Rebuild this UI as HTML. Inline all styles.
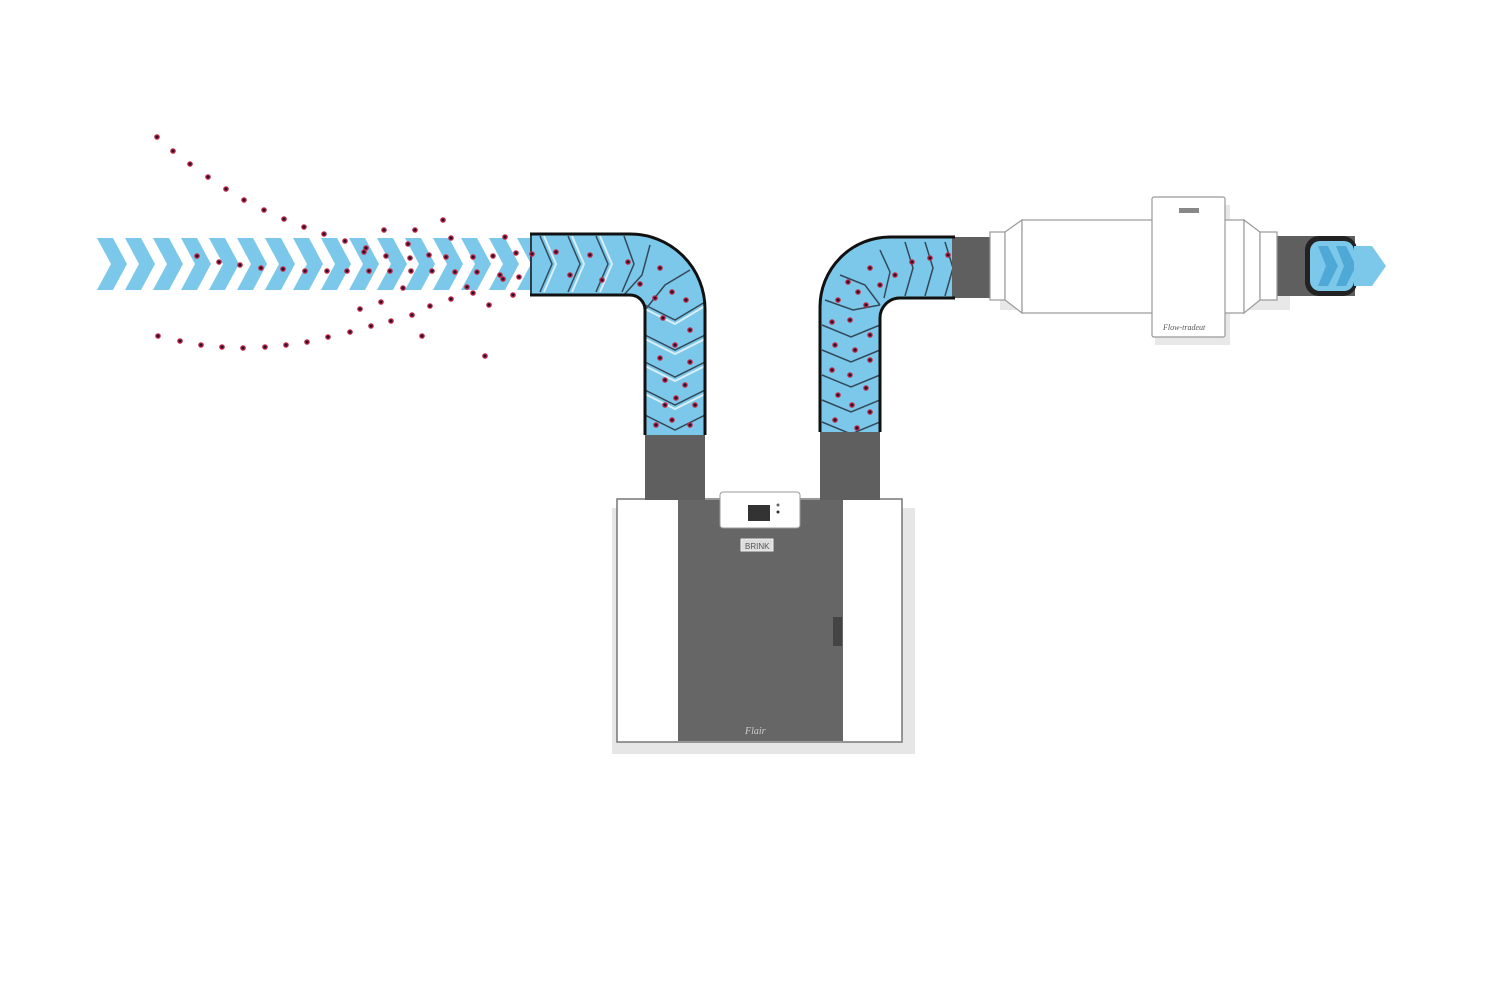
<!DOCTYPE html>
<html><head><meta charset="utf-8"><style>html,body{margin:0;padding:0;background:#fff}svg{display:block}</style></head>
<body>
<svg width="1488" height="992" viewBox="0 0 1488 992" xmlns="http://www.w3.org/2000/svg">
<defs>
<clipPath id="lduct"><path d="M530,234 H630 A75,75 0 0 1 705,309 V435 H645 V310 A15,15 0 0 0 630,295 H530 Z"/></clipPath>
<clipPath id="rduct"><path d="M820,432 V307 A70,70 0 0 1 890,237 H952 V298 H900 A20,20 0 0 0 880,318 V432 Z"/></clipPath>
<clipPath id="band"><rect x="95" y="238" width="440" height="53"/></clipPath>
<g id="chev"><polygon points="0,0 16,0 30,26 16,52 0,52 14,26" fill="#7cc8ea"/></g>
<g id="dot"><circle r="2.8" fill="#c42a45"/><circle r="1.5" fill="#2a1030"/></g>
</defs>

<g clip-path="url(#band)">
<use href="#chev" x="97" y="238"/><use href="#chev" x="125" y="238"/><use href="#chev" x="153" y="238"/><use href="#chev" x="181" y="238"/><use href="#chev" x="209" y="238"/><use href="#chev" x="237" y="238"/><use href="#chev" x="265" y="238"/><use href="#chev" x="293" y="238"/><use href="#chev" x="321" y="238"/><use href="#chev" x="349" y="238"/><use href="#chev" x="377" y="238"/><use href="#chev" x="405" y="238"/><use href="#chev" x="433" y="238"/><use href="#chev" x="461" y="238"/><use href="#chev" x="489" y="238"/><use href="#chev" x="517" y="238"/>
</g>

<rect x="612" y="508" width="303" height="246" fill="#e6e6e6"/>
<path d="M530,234 H630 A75,75 0 0 1 705,309 V510 H645 V310 A15,15 0 0 0 630,295 H530 Z" fill="#5f5f5f"/>
<g clip-path="url(#lduct)">
<rect x="520" y="220" width="200" height="220" fill="#7cc8ea"/>
<g fill="none" stroke="#33495a" stroke-width="1.5">
<path d="M540,236 l12,28 l-12,28"/><path d="M568,236 l12,28 l-12,28"/><path d="M596,236 l12,28 l-12,28"/><path d="M624,236 l10,28 l-12,28"/>
<path d="M650,245 l-8,30 l-20,22"/><path d="M690,270 l-25,15 l-20,25"/>
<path d="M645,305 l30,15 l30,-18"/><path d="M645,335 l30,15 l30,-15"/><path d="M645,362 l30,15 l30,-15"/><path d="M645,390 l30,15 l30,-15"/><path d="M645,415 l30,15 l30,-15"/>
</g>
<g stroke="#fff" stroke-width="2" fill="none" opacity="0.7">
<path d="M544,236 l12,28 l-12,28"/><path d="M572,236 l12,28 l-12,28"/><path d="M600,236 l12,28 l-12,28"/>
<path d="M645,309 l30,15 l30,-18"/><path d="M645,339 l30,15 l30,-15"/><path d="M645,366 l30,15 l30,-15"/><path d="M645,394 l30,15 l30,-15"/>
</g>
</g>
<path d="M530,234 H630 A75,75 0 0 1 705,309 V435" fill="none" stroke="#111" stroke-width="3"/>
<path d="M645,435 V310 A15,15 0 0 0 630,295 H530" fill="none" stroke="#111" stroke-width="3"/>
<path d="M531,234 V295" fill="none" stroke="#111" stroke-width="1.5"/>

<path d="M820,510 V307 A70,70 0 0 1 890,237 H995 V298 H900 A20,20 0 0 0 880,318 V510 Z" fill="#5f5f5f"/>
<g clip-path="url(#rduct)">
<rect x="815" y="230" width="140" height="210" fill="#7cc8ea"/>
<g fill="none" stroke="#33495a" stroke-width="1.5">
<path d="M945,242 l8,26 l-8,28"/><path d="M925,242 l8,26 l-8,28"/><path d="M905,242 l8,26 l-8,28"/><path d="M880,250 l10,22 l-6,26"/>
<path d="M840,275 l25,10 l15,20"/><path d="M825,300 l28,10 l27,-5"/>
<path d="M822,325 l29,12 l29,-12"/><path d="M822,350 l29,12 l29,-12"/><path d="M822,375 l29,12 l29,-12"/><path d="M822,400 l29,12 l29,-12"/><path d="M822,422 l29,12 l29,-12"/>
</g>
</g>
<path d="M880,432 V318 A20,20 0 0 1 900,298 H955 M955,237 H890 A70,70 0 0 0 820,307 V432" fill="none" stroke="#111" stroke-width="3"/>

<rect x="1000" y="244" width="290" height="66" fill="#e8e8e8"/>
<rect x="1155" y="205" width="75" height="140" fill="#e8e8e8"/>
<rect x="1277" y="236" width="78" height="60" fill="#5f5f5f"/>
<rect x="990" y="232" width="15" height="68" fill="#fff" stroke="#999" stroke-width="1.2"/>
<polygon points="1005,232 1022,220 1022,313 1005,300" fill="#fff" stroke="#999" stroke-width="1.2"/>
<rect x="1022" y="220" width="132" height="93" fill="#fff" stroke="#999" stroke-width="1.2"/>
<rect x="1224" y="220" width="20" height="93" fill="#fff" stroke="#999" stroke-width="1.2"/>
<polygon points="1244,220 1260,232 1260,300 1244,313" fill="#fff" stroke="#999" stroke-width="1.2"/>
<rect x="1260" y="232" width="17" height="68" fill="#fff" stroke="#999" stroke-width="1.2"/>
<rect x="1152" y="197" width="73" height="140" fill="#fff" stroke="#999" stroke-width="1.2" rx="2"/>
<rect x="1179" y="208" width="20" height="5" fill="#888"/>
<text x="1163" y="330" font-family="Liberation Serif, serif" font-style="italic" font-size="8" fill="#555">Flow-tradeut</text>
<rect x="1305" y="236" width="52" height="60" rx="14" fill="#222"/>
<rect x="1310" y="241" width="44" height="50" rx="10" fill="#7cc8ea"/>
<g fill="#4fa9d6"><polygon points="1318,246 1328,246 1338,266 1328,286 1318,286 1326,266"/><polygon points="1336,246 1346,246 1356,266 1346,286 1336,286 1344,266"/></g>
<polygon points="1354,246 1372,246 1386,266 1372,286 1354,286" fill="#7cc8ea"/>

<rect x="617" y="499" width="285" height="243" fill="#fff" stroke="#777" stroke-width="1.5"/>
<rect x="678" y="500" width="165" height="241" fill="#666"/>
<rect x="645" y="480" width="60" height="20" fill="#5f5f5f"/>
<rect x="820" y="480" width="60" height="20" fill="#5f5f5f"/>
<rect x="720" y="492" width="80" height="36" fill="#fff" stroke="#999" rx="3"/>
<rect x="748" y="505" width="22" height="16" fill="#333"/>
<circle cx="778" cy="505" r="1.5" fill="#666"/><circle cx="778" cy="512" r="1.5" fill="#333"/>
<rect x="741" y="539" width="32" height="12" fill="#ddd" stroke="#eee"/>
<text x="745" y="549" font-family="Liberation Sans, sans-serif" font-size="8" fill="#555">BRINK</text>
<rect x="833" y="617" width="9" height="29" fill="#444"/>
<text x="745" y="734" font-family="Liberation Serif, serif" font-style="italic" font-size="10" fill="#ccc">Flair</text>

<g>
<use href="#dot" x="157" y="137"/><use href="#dot" x="173" y="151"/><use href="#dot" x="190" y="164"/><use href="#dot" x="208" y="177"/><use href="#dot" x="226" y="189"/><use href="#dot" x="244" y="200"/><use href="#dot" x="264" y="210"/><use href="#dot" x="284" y="219"/><use href="#dot" x="304" y="227"/><use href="#dot" x="324" y="234"/><use href="#dot" x="345" y="241"/><use href="#dot" x="366" y="248"/>
<use href="#dot" x="384" y="230"/><use href="#dot" x="415" y="230"/><use href="#dot" x="443" y="220"/><use href="#dot" x="451" y="238"/><use href="#dot" x="505" y="237"/>
<use href="#dot" x="197" y="256"/><use href="#dot" x="219" y="262"/><use href="#dot" x="240" y="265"/><use href="#dot" x="261" y="268"/><use href="#dot" x="283" y="269"/><use href="#dot" x="305" y="271"/><use href="#dot" x="327" y="271"/><use href="#dot" x="347" y="271"/><use href="#dot" x="369" y="271"/><use href="#dot" x="390" y="271"/><use href="#dot" x="411" y="271"/><use href="#dot" x="432" y="271"/><use href="#dot" x="455" y="272"/><use href="#dot" x="477" y="272"/><use href="#dot" x="500" y="275"/>
<use href="#dot" x="410" y="258"/><use href="#dot" x="446" y="257"/><use href="#dot" x="408" y="244"/><use href="#dot" x="364" y="252"/><use href="#dot" x="386" y="256"/><use href="#dot" x="429" y="255"/><use href="#dot" x="473" y="257"/><use href="#dot" x="493" y="256"/><use href="#dot" x="516" y="253"/><use href="#dot" x="532" y="254"/><use href="#dot" x="503" y="279"/><use href="#dot" x="519" y="277"/><use href="#dot" x="467" y="287"/><use href="#dot" x="403" y="288"/><use href="#dot" x="513" y="295"/><use href="#dot" x="489" y="305"/>
<use href="#dot" x="158" y="336"/><use href="#dot" x="180" y="341"/><use href="#dot" x="201" y="345"/><use href="#dot" x="222" y="347"/><use href="#dot" x="243" y="348"/><use href="#dot" x="265" y="347"/><use href="#dot" x="286" y="345"/><use href="#dot" x="307" y="342"/><use href="#dot" x="328" y="337"/><use href="#dot" x="350" y="332"/><use href="#dot" x="371" y="326"/><use href="#dot" x="391" y="321"/><use href="#dot" x="412" y="315"/><use href="#dot" x="430" y="306"/><use href="#dot" x="451" y="299"/><use href="#dot" x="473" y="293"/>
<use href="#dot" x="360" y="309"/><use href="#dot" x="381" y="302"/><use href="#dot" x="422" y="336"/><use href="#dot" x="485" y="356"/>
<use href="#dot" x="556" y="252"/><use href="#dot" x="570" y="275"/><use href="#dot" x="590" y="255"/><use href="#dot" x="602" y="280"/><use href="#dot" x="628" y="262"/><use href="#dot" x="640" y="284"/><use href="#dot" x="660" y="268"/><use href="#dot" x="672" y="292"/><use href="#dot" x="655" y="298"/><use href="#dot" x="686" y="300"/><use href="#dot" x="663" y="318"/><use href="#dot" x="690" y="330"/><use href="#dot" x="675" y="345"/><use href="#dot" x="660" y="358"/><use href="#dot" x="690" y="362"/><use href="#dot" x="665" y="380"/><use href="#dot" x="685" y="385"/><use href="#dot" x="676" y="398"/><use href="#dot" x="695" y="405"/><use href="#dot" x="665" y="405"/><use href="#dot" x="672" y="420"/><use href="#dot" x="690" y="425"/><use href="#dot" x="656" y="425"/>
<use href="#dot" x="948" y="255"/><use href="#dot" x="930" y="258"/><use href="#dot" x="912" y="262"/><use href="#dot" x="895" y="275"/><use href="#dot" x="880" y="285"/><use href="#dot" x="870" y="268"/><use href="#dot" x="858" y="292"/><use href="#dot" x="848" y="282"/><use href="#dot" x="838" y="300"/><use href="#dot" x="866" y="305"/><use href="#dot" x="850" y="320"/><use href="#dot" x="832" y="322"/><use href="#dot" x="870" y="335"/><use href="#dot" x="835" y="345"/><use href="#dot" x="855" y="350"/><use href="#dot" x="870" y="360"/><use href="#dot" x="832" y="370"/><use href="#dot" x="850" y="375"/><use href="#dot" x="866" y="388"/><use href="#dot" x="838" y="395"/><use href="#dot" x="852" y="405"/><use href="#dot" x="870" y="412"/><use href="#dot" x="835" y="420"/><use href="#dot" x="857" y="428"/>
</g>
</svg>
</body></html>
